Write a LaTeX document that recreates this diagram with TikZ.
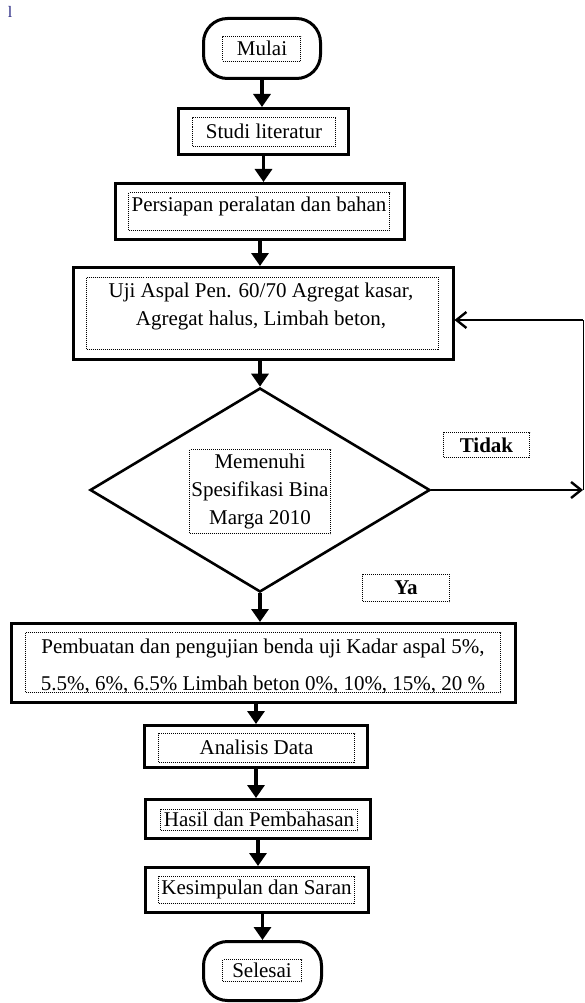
\documentclass[tikz,border=0pt]{standalone}
\usepackage{fontspec}
\setmainfont{Liberation Serif}
\usetikzlibrary{arrows.meta,shapes.geometric}
\definecolor{navy}{RGB}{40,40,130}
\tikzset{
  every picture/.style={line width=0.6pt},
  blk/.style={draw,rectangle,line width=3pt,inner sep=0},
  term/.style={blk,rounded corners=24pt},
  dec/.style={draw,diamond,line width=2.6pt,inner sep=0},
  frm/.style={draw,rectangle,densely dotted,line width=1pt,inner sep=0},
  txt/.style={font=\fontsize{21}{28}\selectfont,align=center,inner sep=0},
  lbl/.style={frm,font=\fontsize{21}{28}\selectfont\bfseries},
  flow/.style={-{Triangle[length=13pt,width=17pt]},line width=3.5pt},
  back/.style={-{Straight Barb[length=10pt,width=16pt]},line width=2.4pt},
}
\begin{document}
\begin{tikzpicture}[x=1pt,y=-1pt]
\useasboundingbox (0,0) rectangle (584,1003);
\node[font=\fontsize{16}{16}\selectfont,text=navy,inner sep=0] (mark) at (10,12) {l};
% start
\node[term,minimum width=117pt,minimum height=60pt] (M) at (262,48.5) {};
\node[frm,minimum width=78pt,minimum height=25pt] (Mi) at (261.5,49) {};
\node[txt] (Mt) at (262,48) {Mulai};
% literature study
\node[blk,minimum width=170pt,minimum height=46pt] (S) at (263.5,131.5) {};
\node[frm,minimum width=143pt,minimum height=29pt] (Si) at (264,132) {};
\node[txt] (St) at (264,131) {Studi literatur};
% preparation
\node[blk,minimum width=289pt,minimum height=56pt] (P) at (260,211.5) {};
\node[frm,minimum width=261pt,minimum height=38pt] (Pi) at (259,211.5) {};
\node[txt] (Pt) at (259,206) {Persiapan peralatan dan bahan};
% material tests
\node[blk,minimum width=380pt,minimum height=92pt] (U) at (263,313.5) {};
\node[frm,minimum width=352pt,minimum height=72pt] (Ui) at (262.5,313.5) {};
\node[txt] (Ut) at (261,306) {Uji Aspal Pen. 60/70 Agregat kasar,\\Agregat halus, Limbah beton,};
% decision
\node[dec,minimum width=340pt,minimum height=204pt] (D) at (260,490) {};
\node[frm,minimum width=141pt,minimum height=84pt] (Di) at (260,491.5) {};
\node[txt] (Dt) at (260,491) {Memenuhi\\Spesifikasi Bina\\Marga 2010};
\node[lbl,minimum width=86pt,minimum height=25pt] (T) at (486.5,445) {Tidak};
\node[lbl,minimum width=87pt,minimum height=27pt] (Y) at (406,588) {Ya};
% specimens
\node[blk,minimum width=504pt,minimum height=79pt] (B) at (263.5,663) {};
\node[frm,minimum width=475pt,minimum height=60pt] (Bi) at (263,662.5) {};
\node[txt] (Bt) at (263,666) {Pembuatan dan pengujian benda uji Kadar aspal 5\%,\\[9pt]5.5\%, 6\%, 6.5\% Limbah beton 0\%, 10\%, 15\%, 20 \%};
% analysis to end
\node[blk,minimum width=223pt,minimum height=42pt] (A) at (256,746.5) {};
\node[frm,minimum width=196pt,minimum height=29pt] (Ai) at (256.5,748) {};
\node[txt] (At) at (256.5,747) {Analisis Data};
\node[blk,minimum width=225pt,minimum height=39pt] (H) at (258,819) {};
\node[frm,minimum width=197pt,minimum height=21pt] (Hi) at (259,820) {};
\node[txt] (Ht) at (259,819) {Hasil dan Pembahasan};
\node[blk,minimum width=223pt,minimum height=45pt] (K) at (257,890) {};
\node[frm,minimum width=196pt,minimum height=27pt] (Ki) at (256.5,890) {};
\node[txt] (Kt) at (256.5,889) {Kesimpulan dan Saran};
\node[term,minimum width=118pt,minimum height=59pt] (E) at (262.5,971) {};
\node[frm,minimum width=79pt,minimum height=22pt] (Ei) at (262,970.5) {};
\node[txt] (Et) at (262,970) {Selesai};
% main flow
\draw[flow] (M) -- (M |- S.north);
\draw[flow] (S) -- (S |- P.north);
\draw[flow] (D |- P.south) -- (D |- U.north);
\draw[flow] (D |- U.south) -- (D);
\draw[flow] (D) -- (D |- B.north);
\draw[flow] (A |- B.south) -- (A);
\draw[flow] (A) -- (A |- H.north);
\draw[flow] (H) -- (H |- K.north);
\draw[flow] (E |- K.south) -- (E);
% loop back
\coordinate (Rb) at (583,490);
\coordinate (Rt) at (583,320);
\draw[back] (D.east) -- (Rb);
\draw[line width=0.8pt] (Rb) -- (Rt);
\draw[back] (Rt) -- (Rt -| U.east);
\end{tikzpicture}
\end{document}
